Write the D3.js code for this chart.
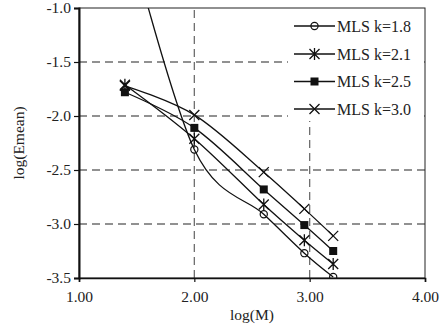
<!DOCTYPE html>
<html>
<head>
<meta charset="utf-8">
<script src="https://cdn.jsdelivr.net/npm/d3@7"></script>
<style>
  html, body { margin: 0; padding: 0; background: #fff; }
  svg { display: block; }
  text { font-family: "Liberation Serif", "Times New Roman", serif; fill: #222; }
</style>
</head>
<body>
<svg id="chart" width="444" height="328"></svg>
<script>
// log(M) sample positions: M = 25, 100, 400, 900, 1600
const logM = [1.398, 2.0, 2.602, 2.954, 3.204];

// log(Emean) for each MLS weight exponent k
const seriesK18 = [-0.2, -2.31, -2.91, -3.27, -3.49];
const seriesK21 = [-1.71, -2.21, -2.82, -3.15, -3.37];
const seriesK25 = [-1.78, -2.11, -2.68, -3.01, -3.25];
const seriesK30 = [-1.72, -1.99, -2.52, -2.86, -3.11];

const seriesNames = ["MLS k=1.8", "MLS k=2.1", "MLS k=2.5", "MLS k=3.0"];
const seriesMarkers = ["circle", "star", "square", "cross"];

const xTicks = [1.0, 2.0, 3.0, 4.0];
const yTicks = [-1.0, -1.5, -2.0, -2.5, -3.0, -3.5];

const svg = d3.select("#chart");
const margin = { left: 79, right: 19, top: 8, bottom: 50 };
const W = 444, H = 328;

const x = d3.scaleLinear().domain([1, 4]).range([margin.left, W - margin.right]);
const y = d3.scaleLinear().domain([-3.5, -1.0]).range([H - margin.bottom, margin.top]);

const x0 = x.range()[0], x1 = x.range()[1];
const y0 = y.range()[0], y1 = y.range()[1];

// dashed grid
const grid = svg.append("g").attr("stroke", "#6e6e6e").attr("stroke-width", 1.3)
  .attr("stroke-dasharray", "8,5");
yTicks.filter(t => t > -3.5 && t < -1.0).forEach(t => {
  grid.append("line").attr("x1", x0).attr("x2", x1).attr("y1", y(t)).attr("y2", y(t));
});
xTicks.filter(t => t > 1 && t < 4).forEach(t => {
  grid.append("line").attr("x1", x(t)).attr("x2", x(t)).attr("y1", y0).attr("y2", y1);
});

// plot frame
svg.append("rect").attr("x", x0).attr("y", y1).attr("width", x1 - x0).attr("height", y0 - y1)
  .attr("fill", "none").attr("stroke", "#222").attr("stroke-width", 1);

// axes (plain hyphen for negative labels)
const fmtY = d => d3.format(".1f")(d).replace("\u2212", "-");
const yAxis = d3.axisLeft(y).tickValues(yTicks).tickFormat(fmtY)
  .tickSize(5).tickPadding(3);
const xAxis = d3.axisBottom(x).tickValues(xTicks).tickFormat(d3.format(".2f"))
  .tickSize(4).tickPadding(9);

const gy = svg.append("g").attr("transform", `translate(${x0},0)`).call(yAxis);
const gx = svg.append("g").attr("transform", `translate(0,${y0})`).call(xAxis);
[gx, gy].forEach(g => {
  g.select(".domain").attr("stroke", "#111").attr("stroke-width", 2);
  g.selectAll(".tick line").attr("stroke", "#111").attr("stroke-width", 1.2);
  g.selectAll(".tick text").attr("font-family", "'Liberation Serif', serif")
    .attr("font-size", 15.5).attr("fill", "#222");
});
gx.select(".domain").attr("stroke-width", 1.6);

// axis titles
svg.append("text").attr("x", (x0 + x1) / 2).attr("y", 320).attr("text-anchor", "middle")
  .attr("font-size", 15.5).text("log(M)");
svg.append("text").attr("transform", `translate(24,${(y0 + y1) / 2}) rotate(-90)`)
  .attr("text-anchor", "middle").attr("font-size", 15.5).text("log(Emean)");

// legend background (sits over the grid, under the data)
svg.append("rect").attr("x", 288).attr("y", y1 + 1)
  .attr("width", x1 - 288 - 1).attr("height", 112).attr("fill", "#fff");

// data, clipped to the plot area
svg.append("defs").append("clipPath").attr("id", "plotClip")
  .append("rect").attr("x", x0).attr("y", y1).attr("width", x1 - x0).attr("height", y0 - y1);

const allSeries = [seriesK18, seriesK21, seriesK25, seriesK30];
const line = d3.line().x((d, i) => x(logM[i])).y(d => y(d)).curve(d3.curveCardinal.tension(0));

function drawMarker(g, type, cx, cy) {
  const s = 5;
  if (type === "circle") {
    g.append("circle").attr("cx", cx).attr("cy", cy).attr("r", 3.6)
      .attr("fill", "none").attr("stroke", "#111").attr("stroke-width", 1.2);
  } else if (type === "square") {
    g.append("rect").attr("x", cx - 4).attr("y", cy - 4).attr("width", 8).attr("height", 8)
      .attr("fill", "#111");
  } else {
    const p = `M${cx - s},${cy - s}L${cx + s},${cy + s}M${cx - s},${cy + s}L${cx + s},${cy - s}` +
      (type === "star" ? `M${cx},${cy - s - 1}L${cx},${cy + s + 1}` : "");
    g.append("path").attr("d", p).attr("stroke", "#111").attr("stroke-width", 1.3).attr("fill", "none");
  }
}

const plot = svg.append("g").attr("clip-path", "url(#plotClip)");
allSeries.forEach(vals => {
  plot.append("path").datum(vals).attr("d", line)
    .attr("fill", "none").attr("stroke", "#111").attr("stroke-width", 1.3);
});
allSeries.forEach((vals, k) => {
  const g = plot.append("g");
  vals.forEach((v, i) => {
    if (v <= -1.0 && v >= -3.5) drawMarker(g, seriesMarkers[k], x(logM[i]), y(v));
  });
});

// legend
const legendRows = [26, 54, 81.5, 109];
seriesNames.forEach((name, k) => {
  const g = svg.append("g");
  const ly = legendRows[k];
  g.append("line").attr("x1", 294).attr("x2", 335).attr("y1", ly).attr("y2", ly)
    .attr("stroke", "#111").attr("stroke-width", 1.3);
  drawMarker(g, seriesMarkers[k], 314.5, ly);
  g.append("text").attr("x", 337).attr("y", ly + 5.5).attr("font-size", 16).text(name);
});
</script>
</body>
</html>
